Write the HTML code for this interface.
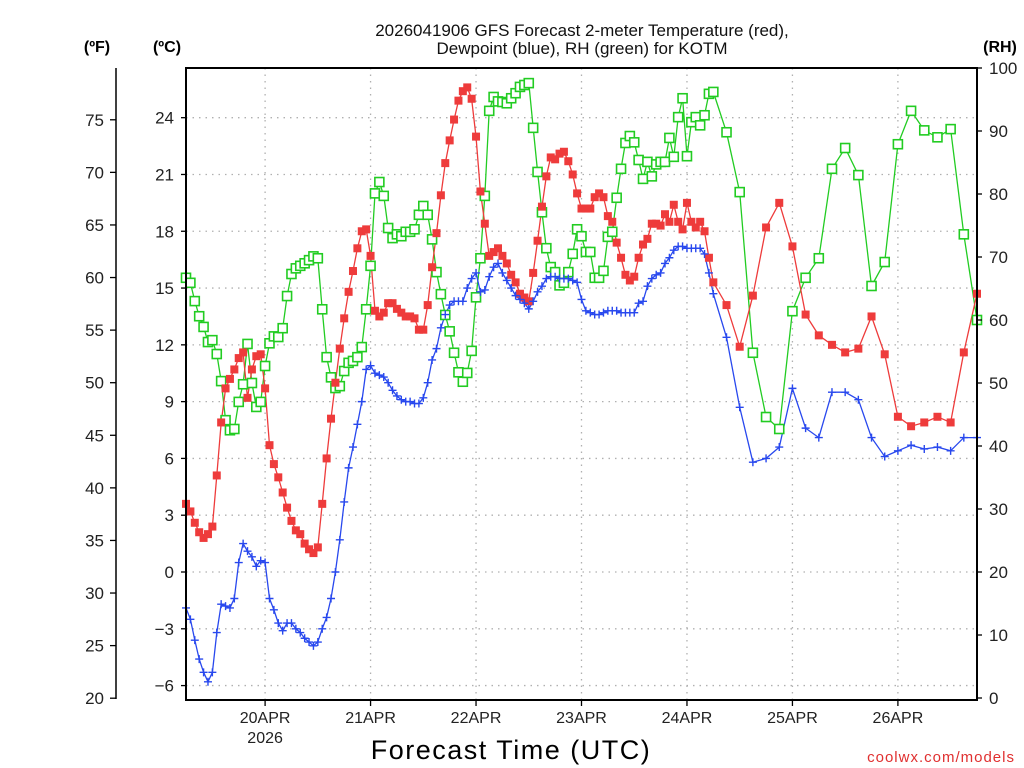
<!DOCTYPE html>
<html><head><meta charset="utf-8">
<style>
html,body{margin:0;padding:0;background:#fff;}
svg{display:block;font-family:"Liberation Sans",sans-serif;}
</style></head>
<body>
<svg id="chart" width="1024" height="768" viewBox="0 0 1024 768" xmlns="http://www.w3.org/2000/svg">
<rect x="0" y="0" width="1024" height="768" fill="#fff"/>
<g id="grid"></g>
<g id="series"></g>
<rect x="186" y="68" width="791" height="632" fill="none" stroke="#000" stroke-width="2"/>
<line x1="116" y1="68" x2="116" y2="699" stroke="#000" stroke-width="1.5"/>
<g id="axes" font-size="17" fill="#222"></g>
<text x="582" y="36" text-anchor="middle" font-size="17" fill="#111">2026041906 GFS Forecast 2-meter Temperature (red),</text>
<text x="582" y="54" text-anchor="middle" font-size="17" fill="#111">Dewpoint (blue), RH (green) for KOTM</text>
<text x="97" y="52" text-anchor="middle" font-size="16" font-weight="bold">(ºF)</text>
<text x="167" y="52" text-anchor="middle" font-size="16" font-weight="bold">(ºC)</text>
<text x="1000" y="52" text-anchor="middle" font-size="16" font-weight="bold">(RH)</text>
<text x="511" y="759" text-anchor="middle" font-size="27" letter-spacing="1.5" fill="#000">Forecast Time (UTC)</text>
<text x="1015" y="762" text-anchor="end" font-size="15" letter-spacing="1" fill="#e03030">coolwx.com/models</text>
</svg>
<script>
const hours = [];
for (let h = 0; h <= 120; h++) hours.push(h);
for (let h = 123; h <= 180; h += 3) hours.push(h);

const tempC = [3.6,3.2,2.6,2.1,1.8,2.0,2.4,5.1,7.9,9.7,10.2,10.7,11.3,11.6,9.2,10.7,11.4,11.5,9.7,6.7,5.7,5.0,4.2,3.4,2.7,2.2,2.0,1.5,1.2,1.0,1.3,3.6,6.0,8.1,10.0,11.8,13.4,14.8,15.9,17.1,18.0,18.1,16.7,13.8,13.5,13.7,
14.2,14.2,13.9,13.7,13.5,13.5,13.4,12.8,12.8,14.1,16.1,17.9,19.9,21.6,22.8,23.9,24.9,25.4,25.6,25.0,23.0,20.1,18.4,16.7,16.9,17.1,16.7,16.3,15.7,15.3,14.7,14.5,14.3,15.8,17.5,19.3,20.9,21.9,21.8,22.1,22.2,21.7,21.0,20.0,
19.2,19.2,19.2,19.8,20.0,19.8,18.8,18.5,17.4,16.6,15.7,15.4,15.6,16.6,17.3,17.6,18.4,18.4,18.3,18.9,18.5,19.4,18.5,18.1,19.5,18.5,18.2,18.5,18.0,16.6,15.3,
14.1,11.9,14.6,18.2,19.5,17.2,13.6,12.5,12.0,11.6,11.8,13.5,11.5,8.2,7.7,7.9,8.2,7.9,11.6,14.7];

const dewC = [-1.9,-2.5,-3.6,-4.6,-5.3,-5.8,-5.3,-3.2,-1.7,-1.8,-1.9,-1.4,0.5,1.5,1.1,0.8,0.3,0.6,0.5,-1.4,-2.0,-2.7,-3.1,-2.7,-2.7,-3.0,-3.2,-3.5,-3.7,-3.9,-3.7,-3.0,-2.4,-1.4,0.0,1.7,3.7,5.5,6.6,7.8,9.0,10.7,10.9,10.5,10.4,10.3,
10.0,9.6,9.3,9.1,9.0,9.0,8.9,8.9,9.2,10.0,11.2,11.8,12.9,13.6,14.1,14.3,14.3,14.3,15.0,15.5,15.8,14.8,14.9,15.6,16.1,16.3,15.8,15.4,15.0,14.6,14.4,14.2,13.9,14.3,14.8,15.1,15.5,15.6,15.6,15.5,15.5,15.5,15.4,15.3,
14.4,13.8,13.7,13.6,13.6,13.7,13.8,13.8,13.8,13.7,13.7,13.7,13.7,14.2,14.3,15.1,15.5,15.7,15.8,16.3,16.6,17.0,17.2,17.2,17.1,17.1,17.1,17.1,16.8,15.8,14.7,
12.4,8.7,5.8,6.0,6.6,9.7,7.6,7.1,9.5,9.5,9.1,7.1,6.1,6.4,6.7,6.5,6.6,6.4,7.1,7.1];

const rhPct = [66.7,65.9,63.0,60.6,58.9,56.5,56.8,54.6,50.3,44.1,42.5,42.7,47.0,49.8,56.2,50.0,46.2,47.0,52.7,56.3,57.4,57.3,58.7,63.8,67.3,68.2,68.6,69.0,69.5,70.1,69.8,61.7,54.1,50.9,49.2,49.5,51.9,53.2,53.5,54.1,55.7,61.7,68.6,
80.1,81.9,79.7,74.6,73.0,73.6,73.3,74.0,74.0,74.4,76.7,78.1,76.7,72.8,67.6,64.1,60.8,58.2,54.8,51.7,50.2,51.6,55.1,63.6,69.8,79.7,93.2,95.4,94.7,94.6,94.4,95.2,96.0,97.0,97.3,97.6,90.5,83.5,77.1,71.4,68.4,67.6,65.5,65.9,67.6,70.5,74.4,
73.3,70.8,70.8,66.7,66.7,67.8,73.2,74.0,79.4,84.0,88.1,89.2,88.2,85.4,82.4,85.1,82.8,84.7,85.1,85.1,88.9,85.9,92.2,95.2,86.0,91.4,92.2,90.9,92.5,95.9,96.2,
89.8,80.3,54.8,44.6,42.7,61.4,66.7,69.8,84.0,87.3,83.0,65.4,69.2,87.9,93.2,90.1,89.0,90.3,73.6,60.0];

const celsiusTicks = [-6,-3,0,3,6,9,12,15,18,21,24];
const fahrenheitTicks = [20,25,30,35,40,45,50,55,60,65,70,75];
const rhTicks = [0,10,20,30,40,50,60,70,80,90,100];
const dayLabels = ["20APR","21APR","22APR","23APR","24APR","25APR","26APR"];
const dayHours = [18,42,66,90,114,138,162];

const NS = "http://www.w3.org/2000/svg";
const X0 = 186, X1 = 977;
function xs(h){ return X0 + h * (X1 - X0) / 180; }
function yC(c){ return 572 - c * 18.93; }
function yF(f){ return yC((f - 32) / 1.8); }
function yRH(r){ return 698 - r * 6.3; }
function mk(tag, attrs, parent){
  const e = document.createElementNS(NS, tag);
  for (const k in attrs) e.setAttribute(k, attrs[k]);
  parent.appendChild(e);
  return e;
}
const grid = document.getElementById('grid');
const axes = document.getElementById('axes');
const series = document.getElementById('series');

celsiusTicks.forEach(c => {
  const y = yC(c);
  const g = mk('line', {x1:X0, x2:X1, y1:y, y2:y, stroke:'#b0b0b0', 'stroke-width':1.3, 'stroke-dasharray':'1.5,5'}, grid);
  
  
  const t = mk('line', {x1:X0-5, x2:X0, y1:y, y2:y, stroke:'#000', 'stroke-width':1.3}, axes);
  
  
  const l = mk('text', {x:X0-12, y:y+6, 'text-anchor':'end'}, axes);
  l.textContent = c < 0 ? '\u2212' + Math.abs(c) : String(c);
  
  
});
fahrenheitTicks.forEach(f => {
  const y = yF(f);
  const t = mk('line', {x1:110, x2:116, y1:y, y2:y, stroke:'#000', 'stroke-width':1.3}, axes);
  
  
  const l = mk('text', {x:104, y:y+6, 'text-anchor':'end'}, axes);
  l.textContent = String(f);
  
  
});
rhTicks.forEach(r => {
  const y = yRH(r);
  const t = mk('line', {x1:X1, x2:X1+5, y1:y, y2:y, stroke:'#000', 'stroke-width':1.3}, axes);
  
  
  const l = mk('text', {x:X1+12, y:y+6, 'text-anchor':'start'}, axes);
  l.textContent = String(r);
  
  
});
dayHours.forEach((h, i) => {
  const x = xs(h);
  const g = mk('line', {x1:x, x2:x, y1:68, y2:700, stroke:'#b0b0b0', 'stroke-width':1.3, 'stroke-dasharray':'1.5,5'}, grid);
  
  
  const t = mk('line', {x1:x, x2:x, y1:700, y2:706, stroke:'#000', 'stroke-width':1.3}, axes);
  
  
  const l = mk('text', {x:x, y:723, 'text-anchor':'middle', 'font-size':16}, axes);
  l.textContent = dayLabels[i];
  
  
});
const yr = mk('text', {x:xs(dayHours[0]), y:743, 'text-anchor':'middle', 'font-size':16}, axes);
yr.textContent = '2026';



function drawLine(vals, yfn, color, name){
  const pts = vals.map((v, i) => xs(hours[i]).toFixed(1) + ',' + yfn(v).toFixed(1)).join(' ');
  const p = mk('polyline', {points:pts, fill:'none', stroke:color, 'stroke-width':1.3}, series);
  
  
}
drawLine(rhPct, yRH, '#22cc22', 'rh-line');
drawLine(tempC, yC, '#ee3b3b', 'temperature-line');
drawLine(dewC, yC, '#2848ee', 'dewpoint-line');

rhPct.forEach((v, i) => {
  const x = xs(hours[i]), y = yRH(v);
  const m = mk('rect', {x:x-4.5, y:y-4.5, width:9, height:9, fill:'#fff', stroke:'#22cc22', 'stroke-width':1.6}, series);
  
  
});
tempC.forEach((v, i) => {
  const x = xs(hours[i]), y = yC(v);
  const m = mk('rect', {x:x-4, y:y-4, width:8, height:8, fill:'#ee3b3b'}, series);
  
  
});
dewC.forEach((v, i) => {
  const x = xs(hours[i]), y = yC(v);
  const m = mk('path', {d:`M${x-4},${y}H${x+4}M${x},${y-4}V${y+4}`, stroke:'#2848ee', 'stroke-width':1.4, fill:'none'}, series);
  
  
});
</script>
</body></html>
